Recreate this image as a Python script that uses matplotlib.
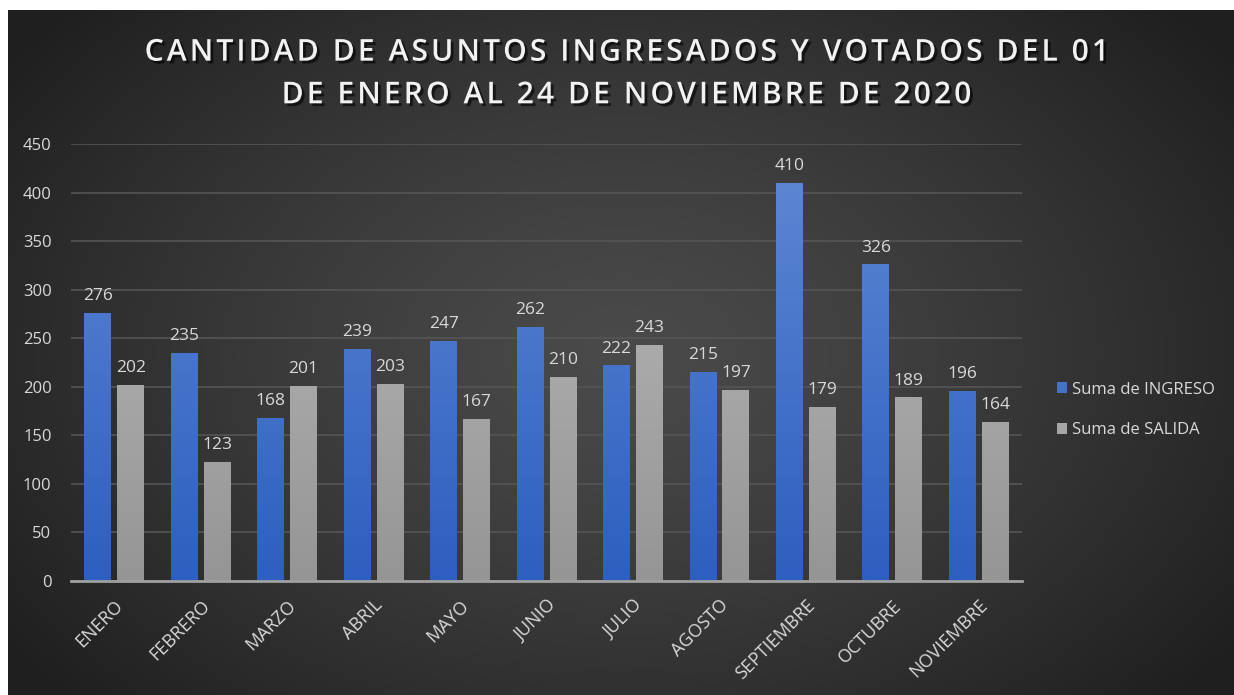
import numpy as np
import matplotlib
matplotlib.use("Agg")
import matplotlib.pyplot as plt
import matplotlib.patheffects as pe
from matplotlib.colors import LinearSegmentedColormap

months = ["ENERO", "FEBRERO", "MARZO", "ABRIL", "MAYO", "JUNIO", "JULIO",
          "AGOSTO", "SEPTIEMBRE", "OCTUBRE", "NOVIEMBRE"]
ingreso = [276, 235, 168, 239, 247, 262, 222, 215, 410, 326, 196]
salida = [202, 123, 201, 203, 167, 210, 243, 197, 179, 189, 164]
yticks = [0, 50, 100, 150, 200, 250, 300, 350, 400, 450]
title_lines = ["CANTIDAD DE ASUNTOS INGRESADOS Y VOTADOS DEL 01",
               "DE ENERO AL 24 DE NOVIEMBRE DE 2020"]
legend_labels = ["Suma de INGRESO", "Suma de SALIDA"]

W, H = 1234, 695
fig = plt.figure(figsize=(W / 100, H / 100), dpi=100)
fig.patch.set_facecolor("white")

# dark radial-gradient background
bg = fig.add_axes([8 / W, 0, 1 - 8 / W, 1 - 10 / H])
bg.set_axis_off()
ny, nx = 300, 520
yy, xx = np.mgrid[0:ny, 0:nx]
cx, cy = nx * 0.50, ny * 0.50
r = np.sqrt(((xx - cx) / (nx * 0.62)) ** 2 + ((yy - cy) / (ny * 0.75)) ** 2)
r = np.clip(r, 0, 1)
val = 0.29 - 0.17 * r ** 1.3
img = np.dstack([val, val, val])
bg.imshow(img, aspect="auto", extent=[0, 1, 0, 1], interpolation="bilinear")
bg.set_xlim(0, 1)
bg.set_ylim(0, 1)
bg.set_zorder(-5)

ax = fig.add_axes([71 / W, 1 - 581 / H, (1022 - 71) / W, (581 - 144) / H])
ax.set_facecolor("none")
ax.set_ylim(0, 450)
ax.set_xlim(-0.5, len(months) - 0.5)

x = np.arange(len(months))
bw = 0.31
off = 0.19
b1 = ax.bar(x - off, ingreso, bw, color="#4472c4", zorder=3, label=legend_labels[0])
b2 = ax.bar(x + off, salida, bw, color="#a6a6a6", zorder=3, label=legend_labels[1])

blue_cmap = LinearSegmentedColormap.from_list("b", ["#2c5fc0", "#6189d4"])
gray_cmap = LinearSegmentedColormap.from_list("g", ["#959595", "#bdbdbd"])
grad = np.linspace(0, 1, 256).reshape(-1, 1)
for bars, cmap in ((b1, blue_cmap), (b2, gray_cmap)):
    for b in bars:
        x0 = b.get_x()
        w = b.get_width()
        im = ax.imshow(grad, cmap=cmap, aspect="auto", origin="lower",
                       extent=[x0, x0 + w, 0, 450], zorder=3.5, interpolation="bilinear")
        im.set_clip_path(b)

for xi, v in zip(x - off, ingreso):
    ax.text(xi, v + 9, str(v), ha="center", va="bottom", color="#d9d9d9",
            fontsize=12.5, family="Open Sans", zorder=5)
for xi, v in zip(x + off, salida):
    ax.text(xi, v + 9, str(v), ha="center", va="bottom", color="#d9d9d9",
            fontsize=12.5, family="Open Sans", zorder=5)

ax.set_yticks(yticks)
ax.yaxis.grid(True, color="#555555", linewidth=1.2, zorder=0)
ax.set_axisbelow(True)
for s in ["top", "right", "left"]:
    ax.spines[s].set_visible(False)
ax.spines["bottom"].set_color("#a0a0a0")
ax.spines["bottom"].set_linewidth(2)
ax.spines["bottom"].set_zorder(4)
ax.tick_params(axis="y", length=0, pad=14, labelcolor="#d9d9d9", labelsize=12)
ax.tick_params(axis="x", length=0, pad=11, labelcolor="#d9d9d9", labelsize=13)
for t in ax.get_yticklabels():
    t.set_family("Open Sans")
ax.set_xticks(x)
ax.set_xticklabels(months, rotation=45, ha="right", rotation_mode="anchor",
                   family="Open Sans")

hair = "\u200a"
spaced = "\n".join(hair.join(list(line)) for line in title_lines)
fig.text(0.5 * (148 + 1105) / W, 1 - 74 / H, spaced, ha="center", va="center",
         color="#f2f2f2", fontsize=21.7, fontweight=600,
         family=["Open Sans", "DejaVu Sans"],
         linespacing=1.55,
         path_effects=[pe.withSimplePatchShadow(offset=(2, -2), shadow_rgbFace="black", alpha=0.6)])

leg = fig.legend(handles=[b1, b2], labels=legend_labels, loc="center left",
                 bbox_to_anchor=(1042 / W, 1 - 410 / H), frameon=False,
                 handlelength=0.6, handleheight=0.6, handletextpad=0.3,
                 labelspacing=1.5, prop={"family": "Open Sans", "size": 12})
for t in leg.get_texts():
    t.set_color("#d9d9d9")

fig.savefig("out.png", dpi=100, facecolor=fig.get_facecolor())
